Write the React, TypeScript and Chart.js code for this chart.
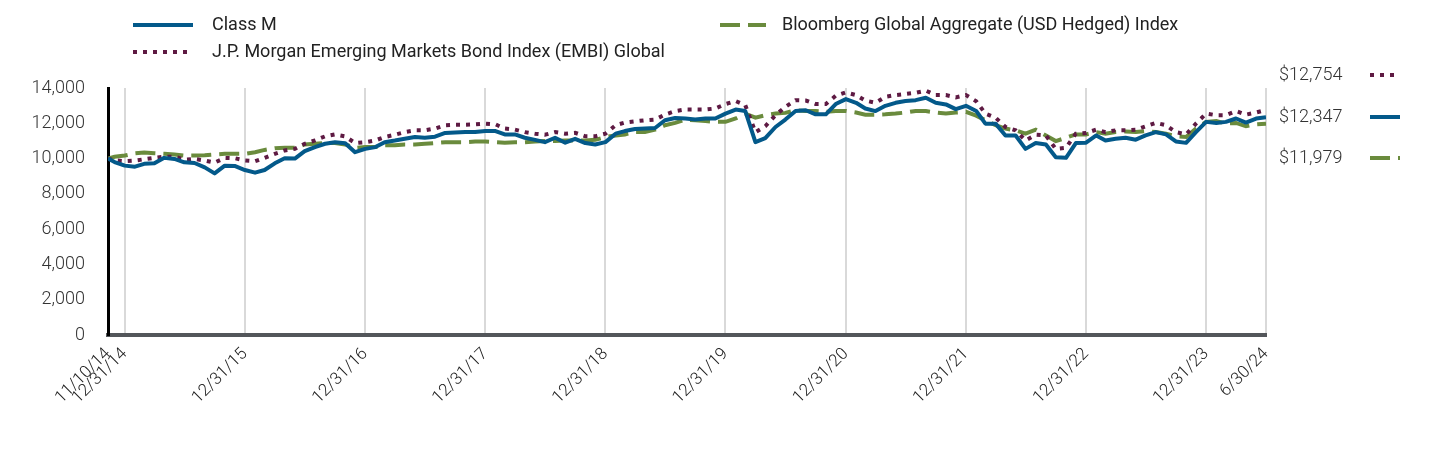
import React, { useEffect, useRef } from 'react';
import { Chart, registerables } from 'chart.js';

Chart.register(...registerables);

// ---------- DATA ----------
const DATES: string[] = [
  '2014-11-10', '2014-11-30', '2014-12-31',
  '2015-01-31', '2015-02-28', '2015-03-31', '2015-04-30', '2015-05-31', '2015-06-30', '2015-07-31', '2015-08-31', '2015-09-30', '2015-10-31', '2015-11-30', '2015-12-31',
  '2016-01-31', '2016-02-29', '2016-03-31', '2016-04-30', '2016-05-31', '2016-06-30', '2016-07-31', '2016-08-31', '2016-09-30', '2016-10-31', '2016-11-30', '2016-12-31',
  '2017-01-31', '2017-02-28', '2017-03-31', '2017-04-30', '2017-05-31', '2017-06-30', '2017-07-31', '2017-08-31', '2017-09-30', '2017-10-31', '2017-11-30', '2017-12-31',
  '2018-01-31', '2018-02-28', '2018-03-31', '2018-04-30', '2018-05-31', '2018-06-30', '2018-07-31', '2018-08-31', '2018-09-30', '2018-10-31', '2018-11-30', '2018-12-31',
  '2019-01-31', '2019-02-28', '2019-03-31', '2019-04-30', '2019-05-31', '2019-06-30', '2019-07-31', '2019-08-31', '2019-09-30', '2019-10-31', '2019-11-30', '2019-12-31',
  '2020-01-31', '2020-02-29', '2020-03-31', '2020-04-30', '2020-05-31', '2020-06-30', '2020-07-31', '2020-08-31', '2020-09-30', '2020-10-31', '2020-11-30', '2020-12-31',
  '2021-01-31', '2021-02-28', '2021-03-31', '2021-04-30', '2021-05-31', '2021-06-30', '2021-07-31', '2021-08-31', '2021-09-30', '2021-10-31', '2021-11-30', '2021-12-31',
  '2022-01-31', '2022-02-28', '2022-03-31', '2022-04-30', '2022-05-31', '2022-06-30', '2022-07-31', '2022-08-31', '2022-09-30', '2022-10-31', '2022-11-30', '2022-12-31',
  '2023-01-31', '2023-02-28', '2023-03-31', '2023-04-30', '2023-05-31', '2023-06-30', '2023-07-31', '2023-08-31', '2023-09-30', '2023-10-31', '2023-11-30', '2023-12-31',
  '2024-01-31', '2024-02-29', '2024-03-31', '2024-04-30', '2024-05-31', '2024-06-30',
];

const CLASS_M: number[] = [
  10000, 9800, 9600,
  9540, 9700, 9730, 10040, 9980, 9790, 9750, 9500, 9160, 9600, 9580, 9350,
  9200, 9350, 9730, 10020, 10000, 10420, 10650, 10840, 10930, 10870, 10360, 10550,
  10650, 10930, 11020, 11120, 11220, 11180, 11240, 11450, 11480, 11500, 11500, 11560,
  11560, 11370, 11370, 11180, 11060, 10930, 11180, 10900, 11120, 10880, 10800, 10930,
  11410, 11560, 11680, 11700, 11730, 12170, 12300, 12270, 12210, 12270, 12270, 12550,
  12780, 12700, 10930, 11160, 11790, 12210, 12700, 12740, 12510, 12510, 13090, 13370,
  13160, 12840, 12690, 12990, 13160, 13260, 13310, 13450, 13160, 13070, 12800, 12990,
  12700, 11980, 11980, 11310, 11310, 10550, 10880, 10800, 10080, 10040, 10880, 10900,
  11310, 11030, 11120, 11180, 11070, 11310, 11500, 11370, 10970, 10890, 11500, 12080,
  12020, 12080, 12270, 12040, 12270, 12347,
];

const EMBI: number[] = [
  10000, 9900, 9850,
  9890, 9960, 10040, 10110, 10110, 9940, 9980, 9890, 9770, 10040, 10020, 9890,
  9850, 10040, 10270, 10460, 10550, 10840, 11030, 11260, 11370, 11260, 10880, 10930,
  11030, 11220, 11350, 11500, 11600, 11600, 11700, 11890, 11920, 11920, 11940, 11980,
  11940, 11700, 11640, 11500, 11410, 11350, 11500, 11410, 11460, 11260, 11260, 11410,
  11890, 12040, 12110, 12170, 12210, 12490, 12690, 12780, 12780, 12780, 12840, 13090,
  13260, 13030, 11500, 11830, 12460, 12930, 13310, 13290, 13090, 13090, 13560, 13750,
  13600, 13290, 13160, 13500, 13600, 13660, 13730, 13850, 13600, 13600, 13470, 13600,
  13250, 12550, 12320, 11790, 11600, 11030, 11350, 11310, 10550, 10610, 11410, 11450,
  11640, 11500, 11600, 11600, 11640, 11830, 12020, 11890, 11500, 11370, 11980, 12550,
  12460, 12460, 12690, 12490, 12610, 12754,
];

const BLOOMBERG: number[] = [
  10000, 10100, 10170,
  10300, 10350, 10300, 10270, 10230, 10170, 10170, 10190, 10230, 10270, 10270, 10270,
  10360, 10490, 10590, 10610, 10610, 10800, 10840, 10880, 10880, 10800, 10610, 10650,
  10650, 10750, 10750, 10800, 10800, 10840, 10880, 10930, 10930, 10930, 10970, 10970,
  10930, 10900, 10930, 10930, 10970, 10990, 10990, 11030, 11030, 11030, 11060, 11220,
  11310, 11370, 11500, 11500, 11640, 11890, 12020, 12210, 12170, 12130, 12080, 12080,
  12270, 12550, 12320, 12460, 12550, 12590, 12740, 12700, 12700, 12650, 12700, 12700,
  12610, 12490, 12490, 12510, 12550, 12610, 12700, 12690, 12610, 12550, 12610, 12650,
  12430, 12170, 11890, 11700, 11600, 11410, 11640, 11310, 10990, 11180, 11370, 11370,
  11500, 11410, 11500, 11540, 11500, 11560, 11500, 11410, 11260, 11220, 11700, 12080,
  12130, 11980, 12020, 11830, 11940, 11979,
];

const SERIES_NAMES: string[] = [
  'Class M',
  'J.P. Morgan Emerging Markets Bond Index (EMBI) Global',
  'Bloomberg Global Aggregate (USD Hedged) Index',
];

const TICK_DATES: string[] = [
  '2014-11-10', '2014-12-31', '2015-12-31', '2016-12-31', '2017-12-31', '2018-12-31',
  '2019-12-31', '2020-12-31', '2021-12-31', '2022-12-31', '2023-12-31', '2024-06-30',
];
const TICK_LABELS: string[] = [
  '11/10/14', '12/31/14', '12/31/15', '12/31/16', '12/31/17', '12/31/18',
  '12/31/19', '12/31/20', '12/31/21', '12/31/22', '12/31/23', '6/30/24',
];

const Y_MIN = 0;
const Y_MAX = 14000;
const Y_STEP = 2000;

// ---------- STYLE ----------
const BLUE = '#03598a';
const MAROON = '#5e1a43';
const GREEN = '#6a8b3d';
const DOT_DASH = [4, 6];
const LONG_DASH = [20, 8];
const FONT = 'Roboto, "Noto Sans", sans-serif';

const dayNum = (iso: string) => {
  const [y, m, d] = iso.split('-').map(Number);
  return Date.UTC(y, m - 1, d) / 86400000;
};
const START = dayNum(DATES[0]);
const toX = (iso: string) => dayNum(iso) - START;

const fmtMoney = (v: number) => '$' + Math.round(v).toLocaleString('en-US');

function drawSample(ctx: CanvasRenderingContext2D, x1: number, x2: number, y: number, color: string, dash: number[]) {
  ctx.save();
  ctx.strokeStyle = color;
  ctx.lineWidth = 4;
  ctx.lineCap = 'butt';
  ctx.setLineDash(dash);
  ctx.beginPath();
  ctx.moveTo(x1, y);
  ctx.lineTo(x2, y);
  ctx.stroke();
  ctx.restore();
}

const overlayPlugin = {
  id: 'overlay',
  afterDraw(chart: any) {
    const ctx: CanvasRenderingContext2D = chart.ctx;
    ctx.save();
    ctx.textBaseline = 'middle';
    ctx.textAlign = 'left';
    ctx.fillStyle = '#222222';
    ctx.font = `400 18px ${FONT}`;
    // top legend
    drawSample(ctx, 133, 193, 25, BLUE, []);
    ctx.fillText(SERIES_NAMES[0], 212, 25);
    drawSample(ctx, 133, 193, 52, MAROON, DOT_DASH);
    ctx.fillText(SERIES_NAMES[1], 212, 52);
    drawSample(ctx, 720, 766, 25, GREEN, LONG_DASH);
    ctx.fillText(SERIES_NAMES[2], 782, 25);

    // right end-value legend
    ctx.fillStyle = '#333333';
    ctx.font = `300 18px ${FONT}`;
    const rows = [
      { v: EMBI[EMBI.length - 1], c: MAROON, d: DOT_DASH, y: 75 },
      { v: CLASS_M[CLASS_M.length - 1], c: BLUE, d: [] as number[], y: 117 },
      { v: BLOOMBERG[BLOOMBERG.length - 1], c: GREEN, d: LONG_DASH, y: 158 },
    ];
    rows.forEach((r) => {
      ctx.fillText(fmtMoney(r.v), 1279, r.y);
      drawSample(ctx, 1370, 1400, r.y, r.c, r.d);
    });
    ctx.restore();
  },
};

export default function App() {
  const ref = useRef<HTMLCanvasElement | null>(null);

  useEffect(() => {
    if (!ref.current) return;
    const tickVals = TICK_DATES.map(toX);
    const mk = (vals: number[]) => DATES.map((d, i) => ({ x: toX(d), y: vals[i] }));

    const chart = new Chart(ref.current, {
      type: 'line',
      data: {
        datasets: [
          {
            label: SERIES_NAMES[0], data: mk(CLASS_M), borderColor: BLUE, borderWidth: 4,
            pointRadius: 0, tension: 0, borderJoinStyle: 'round',
          },
          {
            label: SERIES_NAMES[1], data: mk(EMBI), borderColor: MAROON, borderWidth: 4,
            borderDash: DOT_DASH, pointRadius: 0, tension: 0,
          },
          {
            label: SERIES_NAMES[2], data: mk(BLOOMBERG), borderColor: GREEN, borderWidth: 4,
            borderDash: LONG_DASH, pointRadius: 0, tension: 0,
          },
        ],
      },
      options: {
        animation: false,
        responsive: true,
        maintainAspectRatio: false,
        parsing: false,
        layout: { padding: { top: 88, right: 174, left: 0, bottom: 0 } },
        plugins: { legend: { display: false }, tooltip: { enabled: false } },
        scales: {
          x: {
            type: 'linear',
            min: 0,
            max: toX(DATES[DATES.length - 1]),
            afterBuildTicks: (scale: any) => {
              scale.ticks = tickVals.map((v) => ({ value: v }));
            },
            afterFit: (scale: any) => {
              scale.height = 121;
            },
            grid: { display: true, color: '#d9d9d9', lineWidth: 2, drawTicks: false },
            border: { display: true, color: '#53565a', width: 4 },
            ticks: {
              autoSkip: false,
              minRotation: 45,
              maxRotation: 45,
              padding: 9,
              color: '#222222',
              font: { family: FONT, size: 17, weight: '300' },
              callback: (v: any) => {
                const i = tickVals.indexOf(Number(v));
                return i >= 0 ? TICK_LABELS[i] : '';
              },
            },
          },
          y: {
            min: Y_MIN,
            max: Y_MAX,
            afterFit: (scale: any) => {
              scale.width = 108;
            },
            grid: { display: false, drawTicks: false },
            border: { display: true, color: '#000000', width: 3 },
            ticks: {
              stepSize: Y_STEP,
              padding: 23,
              color: '#333333',
              font: { family: FONT, size: 18, weight: '300' },
              callback: (v: any) => Number(v).toLocaleString('en-US'),
            },
          },
        },
      } as any,
      plugins: [overlayPlugin],
    });
    return () => chart.destroy();
  }, []);

  return (
    <div style={{ position: 'fixed', left: 0, top: 0, width: 1440, height: 456, background: '#ffffff' }}>
      <canvas ref={ref} />
    </div>
  );
}
